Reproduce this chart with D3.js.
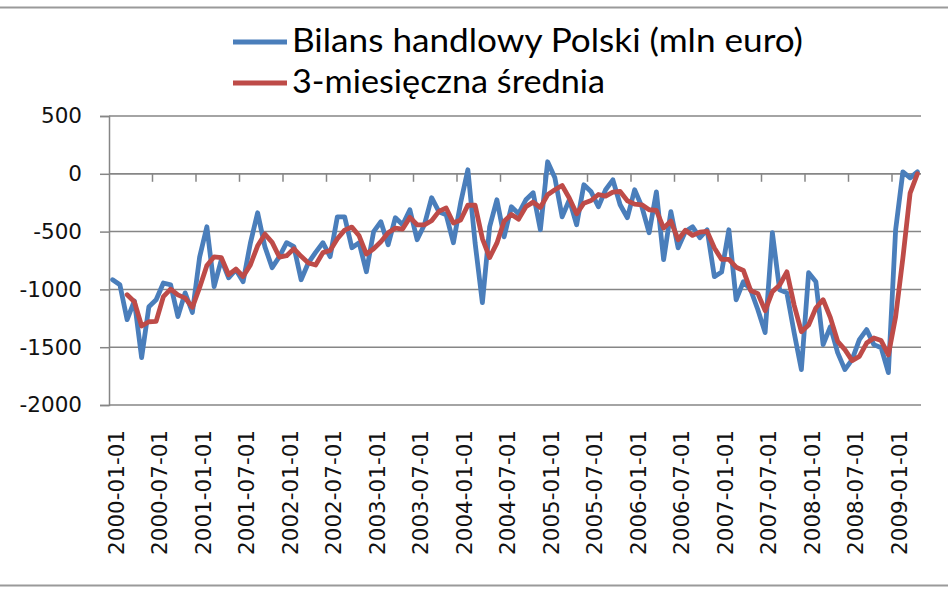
<!DOCTYPE html>
<html>
<head>
<meta charset="utf-8">
<script src="https://d3js.org/d3.v7.min.js"></script>
<style>
  body { margin: 0; background: #fff; }
  svg { display: block; }
</style>
</head>
<body>
<div id="chart"></div>
<script>
// bilans handlowy, mln euro, 2000-01 .. 2009-04
var bilans = [
  -916, -960, -1262, -1100, -1590, -1150, -1090, -945, -960, -1235, -1030, -1200,
  -720, -458, -977, -743, -900, -830, -933, -600, -337, -630, -812, -717,
  -596, -630, -916, -770, -680, -596, -717, -372, -372, -640, -596, -847,
  -500, -415, -614, -380, -441, -311, -570, -441, -207, -328, -354, -596,
  -251, 35, -600, -1115, -460, -225, -545, -285, -345, -225, -164, -484,
  104, -35, -372, -225, -441, -95, -156, -285, -138, -52, -268, -380,
  -138, -285, -510, -156, -743, -328, -640, -500, -458, -553, -484, -890,
  -850, -484, -1090, -933, -1003, -1176, -1374, -510, -1003, -1030, -1374, -1694,
  -856, -933, -1478, -1322, -1547, -1694, -1608, -1435, -1348, -1478, -1504, -1720,
  -484, 17, -35, 17
];

// 3-miesieczna srednia
var srednia = [
  null, null, -1046, -1107, -1317, -1280, -1277, -1062, -998, -1047, -1075, -1155,
  -983, -793, -718, -726, -873, -824, -888, -788, -623, -522, -593, -720,
  -708, -648, -714, -772, -789, -682, -664, -562, -487, -461, -536, -694,
  -648, -587, -510, -470, -478, -377, -441, -441, -406, -325, -296, -426,
  -400, -271, -272, -560, -725, -600, -410, -352, -392, -285, -245, -291,
  -181, -138, -101, -211, -346, -254, -231, -179, -193, -158, -153, -233,
  -262, -268, -311, -317, -470, -409, -570, -489, -533, -504, -498, -642,
  -741, -741, -808, -836, -1009, -1037, -1184, -1020, -962, -848, -1136, -1366,
  -1308, -1161, -1089, -1244, -1449, -1521, -1616, -1579, -1464, -1420, -1443, -1567,
  -1236, -729, -167, 0
];

var xLabels = [
  "2000-01-01", "2000-07-01", "2001-01-01", "2001-07-01", "2002-01-01", "2002-07-01",
  "2003-01-01", "2003-07-01", "2004-01-01", "2004-07-01", "2005-01-01", "2005-07-01",
  "2006-01-01", "2006-07-01", "2007-01-01", "2007-07-01", "2008-01-01", "2008-07-01",
  "2009-01-01"
];
var yTicks = [500, 0, -500, -1000, -1500, -2000];
var seriesNames = ["Bilans handlowy Polski (mln euro)", "3-miesięczna średnia"];
var seriesColors = ["#4a7ebb", "#be4b48"];

var W = 948, H = 593;
var fmt = d3.timeFormat("%Y-%m-%d");
var months = d3.timeMonth.range(new Date(2000, 0, 1), new Date(2009, 4, 1)).map(fmt);

var svg = d3.select("#chart").append("svg")
  .attr("width", W)
  .attr("height", H);

// frame lines top and bottom
svg.append("line").attr("x1", 0).attr("x2", W).attr("y1", 7.5).attr("y2", 7.5)
  .attr("stroke", "#9a9a9a").attr("stroke-width", 2);
svg.append("line").attr("x1", 0).attr("x2", W).attr("y1", 585.5).attr("y2", 585.5)
  .attr("stroke", "#9a9a9a").attr("stroke-width", 2);

var x = d3.scaleBand()
  .domain(months)
  .range([109, 921])
  .padding(0);

var y = d3.scaleLinear()
  .domain([-2000, 500])
  .range([405, 116]);

// gridlines
svg.append("g")
  .selectAll("line")
  .data(yTicks)
  .enter().append("line")
    .attr("x1", 109).attr("x2", 921)
    .attr("y1", function(d) { return y(d); })
    .attr("y2", function(d) { return y(d); })
    .attr("stroke", "#868686")
    .attr("stroke-width", 1.5);

// y axis
var yAxis = svg.append("g")
  .attr("transform", "translate(109,0)")
  .call(d3.axisLeft(y).tickValues(yTicks).tickSize(9).tickPadding(18)
    .tickFormat(function(d) { return String(d); }));
yAxis.select(".domain").attr("stroke", "#868686").attr("stroke-width", 1.5);
yAxis.selectAll(".tick line").attr("stroke", "#868686").attr("stroke-width", 1.5);
yAxis.selectAll("text")
  .attr("fill", "#111")
  .style("font-family", "DejaVu Sans")
  .style("font-size", "21.5px");

// x axis at zero, ticks every 6 months
svg.append("line")
  .attr("x1", 109).attr("x2", 921)
  .attr("y1", y(0)).attr("y2", y(0))
  .attr("stroke", "#868686").attr("stroke-width", 1.5);

var tickCats = months.filter(function(d, i) { return i > 0 && i % 6 === 0; });
svg.append("g")
  .selectAll("line")
  .data(tickCats)
  .enter().append("line")
    .attr("x1", function(d) { return x(d); })
    .attr("x2", function(d) { return x(d); })
    .attr("y1", y(0))
    .attr("y2", y(0) + 8)
    .attr("stroke", "#868686")
    .attr("stroke-width", 1.5);

svg.append("g")
  .selectAll("text")
  .data(xLabels)
  .enter().append("text")
    .attr("transform", function(d) {
      return "translate(" + (x(d) + x.bandwidth() / 2 + 3.5) + ",430) rotate(-90)";
    })
    .attr("text-anchor", "end")
    .attr("dominant-baseline", "central")
    .attr("fill", "#111")
    .style("font-family", "DejaVu Sans")
    .style("font-size", "21.5px")
    .text(function(d) { return d; });

// lines
var line = d3.line()
  .defined(function(d) { return d != null; })
  .x(function(d, i) { return x(months[i]) + x.bandwidth() / 2; })
  .y(function(d) { return y(d); });

[bilans, srednia].forEach(function(s, k) {
  svg.append("path")
    .datum(s)
    .attr("d", line)
    .attr("fill", "none")
    .attr("stroke", seriesColors[k])
    .attr("stroke-width", 4.8)
    .attr("stroke-linejoin", "round")
    .attr("stroke-linecap", "round");
});

// legend
var legend = svg.append("g");
var legendY = [42, 83];
var legendW = [511, 313];
seriesNames.forEach(function(name, k) {
  legend.append("line")
    .attr("x1", 233).attr("x2", 287)
    .attr("y1", legendY[k]).attr("y2", legendY[k])
    .attr("stroke", seriesColors[k])
    .attr("stroke-width", 5);
  legend.append("text")
    .attr("x", 292)
    .attr("y", legendY[k] + 10)
    .attr("textLength", legendW[k])
    .attr("lengthAdjust", "spacingAndGlyphs")
    .style("font-family", "Lato")
    .style("font-size", "33px")
    .attr("fill", "#000")
    .text(name);
});
</script>
</body>
</html>
